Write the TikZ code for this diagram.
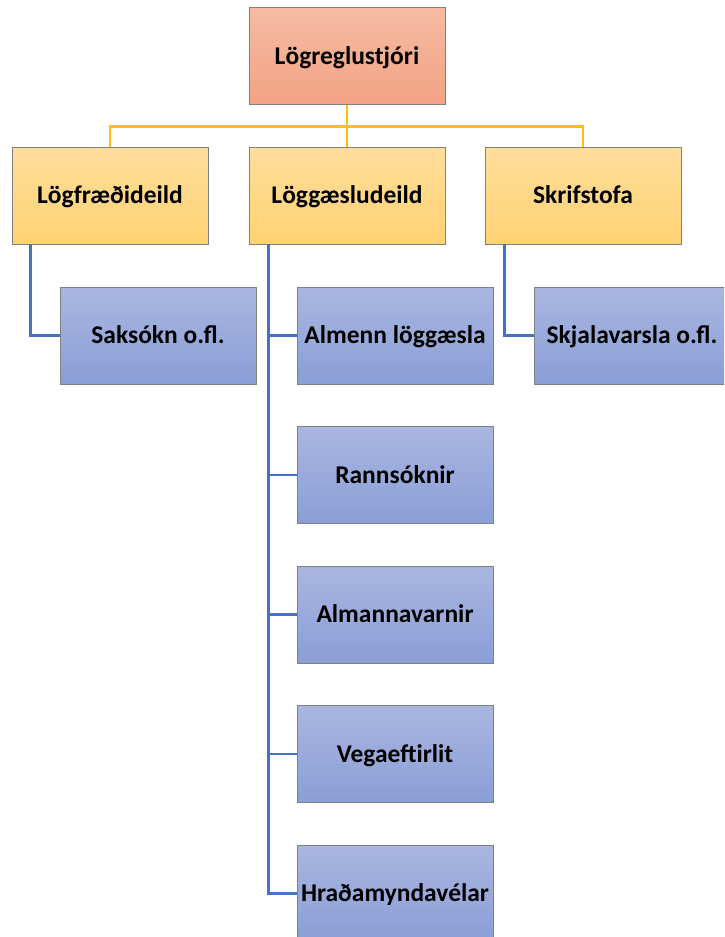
\documentclass[tikz,border=0pt]{standalone}
\usepackage{fontspec}
\setmainfont{Carlito}
\definecolor{salmonT}{HTML}{F5BBA3}
\definecolor{salmonB}{HTML}{F3A283}
\definecolor{yelT}{HTML}{FFDE9C}
\definecolor{yelB}{HTML}{FFD273}
\definecolor{bluT}{HTML}{A9B6E0}
\definecolor{bluB}{HTML}{8A9ED6}
\definecolor{yline}{HTML}{FFC000}
\definecolor{bline}{HTML}{4472C4}
\definecolor{bord}{HTML}{808080}
\tikzset{
  box/.style={draw=bord, line width=0.9pt, minimum width=196pt, minimum height=97pt,
    inner sep=0pt, text height=16.5pt, text depth=0pt,
    font=\fontsize{25.5}{30}\selectfont\bfseries, text=black},
  topbox/.style={box, top color=salmonT, bottom color=salmonB},
  deptbox/.style={box, top color=yelT, bottom color=yelB},
  unitbox/.style={box, top color=bluT, bottom color=bluB},
  yconn/.style={draw=yline, line width=2.2pt},
  bconn/.style={draw=bline, line width=2.2pt},
}
\begin{document}
\begin{tikzpicture}[x=1pt,y=-1pt]
\useasboundingbox (0,0) rectangle (724,937);
\coordinate (ybus) at (0,126.5);
\begin{scope}
\clip (0,0) rectangle (724,937);
\node[topbox] (top) at (347,56) {Lögreglustjóri};
\node[deptbox] (d1) at (110,195.5) {Lögfræðideild};
\node[deptbox] (d2) at (347,195.5) {Löggæsludeild};
\node[deptbox] (d3) at (583,195.5) {Skrifstofa};
\node[unitbox] (u1) at (158,335.5) {Saksókn o.fl.};
\node[unitbox] (u2) at (395,335.5) {Almenn löggæsla};
\node[unitbox] (u3) at (632,335.5) {Skjalavarsla o.fl.};
\node[unitbox] (u4) at (395,475) {Rannsóknir};
\node[unitbox] (u5) at (395,614.5) {Almannavarnir};
\node[unitbox] (u6) at (395,754) {Vegaeftirlit};
\node[unitbox] (u7) at (395,893.5) {Hraðamyndavélar};
\end{scope}
% connectors
\draw[yconn] (top.south) -- (d2.north);
\draw[yconn] (d1.north) -- (d1.north |- ybus) -- (d3.north |- ybus) -- (d3.north);
\draw[bconn] ([xshift=19pt]d1.south west) |- (u1.west);
\draw[bconn] ([xshift=20pt]d2.south west) |- (u7.west);
\foreach \u in {u2,u4,u5,u6}{
  \draw[bconn] ([xshift=20pt]d2.south west |- \u.west) -- (\u.west);
}
\draw[bconn] ([xshift=20pt]d3.south west) |- (u3.west);
\end{tikzpicture}
\end{document}
